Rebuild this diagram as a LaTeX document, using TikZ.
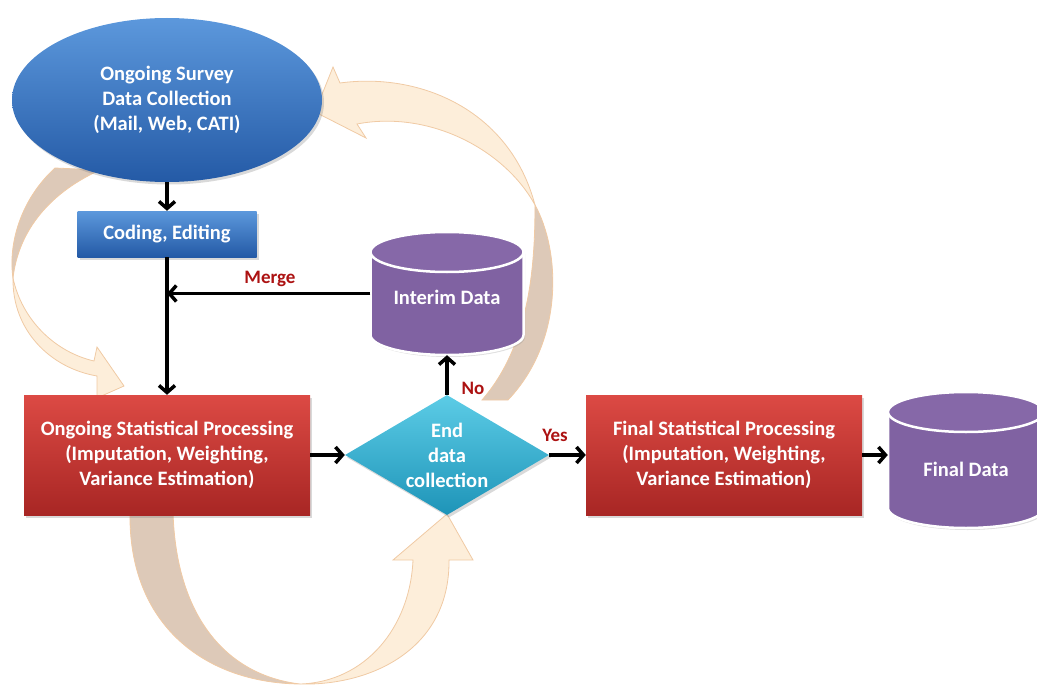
\documentclass[tikz,border=0pt]{standalone}
\usepackage{fontspec}
\setmainfont{Carlito}
\usetikzlibrary{shapes.geometric,arrows.meta,shadows}

\definecolor{blueT}{RGB}{92,152,220}
\definecolor{blueB}{RGB}{36,90,166}
\definecolor{redT}{RGB}{220,74,68}
\definecolor{redB}{RGB}{168,38,36}
\definecolor{cyanT}{RGB}{92,204,230}
\definecolor{cyanB}{RGB}{30,148,184}
\definecolor{purp}{RGB}{128,98,162}
\definecolor{purpT}{RGB}{134,104,168}
\definecolor{tanB}{RGB}{221,201,184}
\definecolor{peach}{RGB}{253,238,218}
\definecolor{peachE}{RGB}{240,202,164}
\definecolor{lblred}{RGB}{172,18,18}

\begin{document}
\begin{tikzpicture}[x=1pt,y=-1pt,
  every node/.style={font=\fontsize{20.5}{25}\selectfont\bfseries, text=white, align=center},
  shad/.style={drop shadow={opacity=0.3,shadow xshift=2pt,shadow yshift=-2.5pt}},
  survey/.style={ellipse, minimum width=310pt, minimum height=164pt, inner sep=0pt,
    top color=blueT, bottom color=blueB, shad},
  codebox/.style={rectangle, minimum width=179pt, minimum height=46pt, inner sep=0pt,
    top color=blueT, bottom color=blueB, shad},
  proc/.style={rectangle, minimum width=286pt, minimum height=120pt, inner sep=0pt,
    top color=redT, bottom color=redB, shad},
  decision/.style={diamond, aspect=1.7, minimum width=204pt, minimum height=120pt, inner sep=0pt,
    top color=cyanT, bottom color=cyanB, shad},
  dbtext/.style={rectangle, inner sep=0pt},
  dbbody/.style={fill=purp, draw=white, line width=2.5pt,
    drop shadow={opacity=0.25,shadow xshift=1.5pt,shadow yshift=-2pt}},
  dbtop/.style={fill=purpT, draw=white, line width=2.5pt},
  conn/.style={draw=black, line width=3.5pt, -{Straight Barb[length=7pt,width=16pt]}},
  lbl/.style={text=lblred, font=\fontsize{19}{22}\selectfont\bfseries},
  ribback/.style={fill=tanB, draw=peachE, line width=0.8pt},
  ribfront/.style={fill=peach, draw=peachE, line width=0.8pt}
]
\useasboundingbox (0,0) rectangle (1037,685);

% curved ribbon arrows (drawn first, behind the boxes)
% left arrow
\path[ribback] (55,168) .. controls (20,200) and (8,245) .. (13,278)
  .. controls (18,235) and (45,195) .. (100,170) -- cycle;
\path[ribfront] (13,278) .. controls (12,330) and (50,368) .. (97,376)
  -- (97,398) -- (124,386) -- (97,347) -- (94,361)
  .. controls (55,352) and (22,320) .. (13,278) -- cycle;
% upper right arrow
\path[ribback] (535,205) .. controls (560,250) and (565,340) .. (508,400)
  -- (482,400) .. controls (530,345) and (535,265) .. (535,205) -- cycle;
\path[ribfront] (340,83) .. controls (420,72) and (510,110) .. (535,205)
  .. controls (505,150) and (430,110) .. (357,124)
  -- (366,138) -- (315,112) -- (333,67) -- cycle;
% bottom arrow
\path[ribback] (130,512) .. controls (128,625) and (205,683) .. (300,684)
  .. controls (225,675) and (176,615) .. (173,512) -- cycle;
\path[ribfront] (300,684) .. controls (365,682) and (410,628) .. (413,560)
  -- (393,560) -- (447,514) -- (473,560) -- (449,560)
  .. controls (450,650) and (370,686) .. (300,684) -- cycle;

% cylinder drawings (Interim Data: x 370.5..523.5, y 232..355; Final Data: x 888..1044, y 392..528)
\path[dbbody] (370.5,252) -- (370.5,335)
  arc[start angle=180, end angle=360, x radius=76.5pt, y radius=20pt]
  -- (523.5,252)
  arc[start angle=0, end angle=180, x radius=76.5pt, y radius=20pt] -- cycle;
\path[dbtop] (447,252) ellipse [x radius=76.5pt, y radius=20pt];
\path[dbbody] (888,412) -- (888,508)
  arc[start angle=180, end angle=360, x radius=78pt, y radius=20pt]
  -- (1044,412)
  arc[start angle=0, end angle=180, x radius=78pt, y radius=20pt] -- cycle;
\path[dbtop] (966,412) ellipse [x radius=78pt, y radius=20pt];

% nodes
\node[survey] (ell) at (167,100) {Ongoing Survey\\Data Collection\\(Mail, Web, CATI)};
\node[codebox] (cod) at (167,234) {Coding, Editing};
\node[proc] (osp) at (167,455) {Ongoing Statistical Processing\\(Imputation, Weighting,\\Variance Estimation)};
\node[decision] (dia) at (447,455) {End\\data\\collection};
\node[proc, minimum width=276pt] (fsp) at (724,455) {Final Statistical Processing\\(Imputation, Weighting,\\Variance Estimation)};
\node[dbtext, minimum width=153pt, text height=72.5pt, text depth=50.5pt] (int) at (447,293.5) {Interim Data};
\node[dbtext, minimum width=156pt, text height=84.5pt, text depth=51.5pt] (fin) at (966,460) {Final Data};

% connectors
\draw[conn] (ell.south) -- (cod.north);
\draw[conn] (cod.south) -- (osp.north);
\draw[conn] (int.west) -- (int.west -| cod.south);
\draw[conn] (dia.north) -- (int.south);
\draw[conn] (osp.east) -- (dia.west);
\draw[conn] (dia.east) -- (fsp.west);
\draw[conn] (fsp.east) -- (fsp.east -| fin.west);

% labels
\node[lbl] (merge) at (270,279) {Merge};
\node[lbl] (no) at (473,388) {No};
\node[lbl] (yes) at (555,435) {Yes};
\end{tikzpicture}
\end{document}
